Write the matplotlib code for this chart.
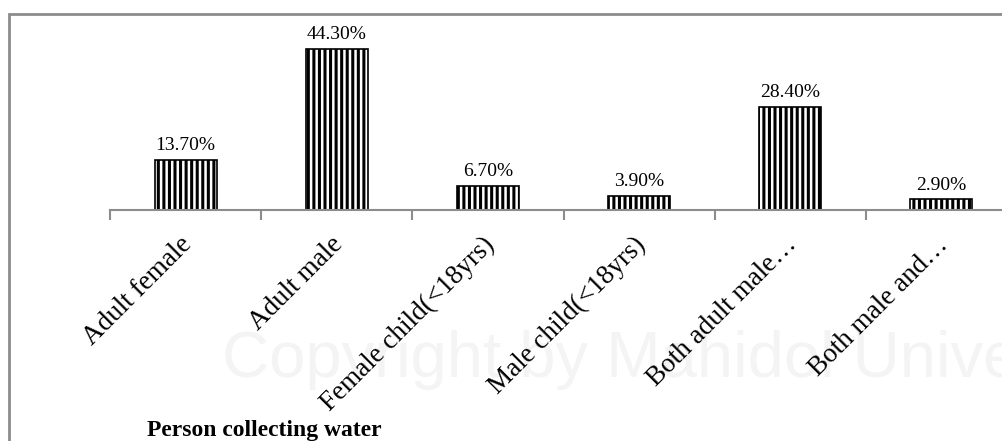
import matplotlib.pyplot as plt
import matplotlib.patches as mpatches
from matplotlib.transforms import ScaledTranslation
import numpy as np

plt.rcParams['hatch.color'] = 'black'
plt.rcParams['hatch.linewidth'] = 2.2

categories = ['Adult female', 'Adult male', 'Female child(<18yrs)',
              'Male child(<18yrs)', 'Both adult male\u2026', 'Both male and\u2026']
values = [13.7, 44.3, 6.7, 3.9, 28.4, 2.9]
title = 'Person collecting water'

W, H = 1003, 441
fig = plt.figure(figsize=(W / 100, H / 100), dpi=100)

# grey frame round the chart area (only left and top show)
frame = mpatches.Rectangle((9 / W, -0.1), 1.2, 1 - 14 / H + 0.1, transform=fig.transFigure,
                           fill=False, edgecolor='#8c8c8c', linewidth=2)
fig.patches.append(frame)

# faint watermark, behind everything else
fig.text(222 / W, 1 - 377 / H, 'Copyright by Mahidol University', fontsize=47,
         color='#f4f4f4', ha='left', va='baseline', family='Liberation Sans', zorder=1)

ppp = 161 / 44.3  # pixels per percent
base = 210
ymax = 50
ax = fig.add_axes([110 / W, 1 - base / H, 907 / W, ymax * ppp / H])
ax.set_zorder(2)
x = np.arange(len(categories)) + 0.5
bars = ax.bar(x, values, width=0.41, color='white', edgecolor='black', linewidth=1.2,
              hatch='|||')
for xi, v in zip(x, values):
    ax.text(xi, v + 1.6, f'{v:.2f}%', ha='center', va='bottom', fontsize=14,
            family='Liberation Serif')

ax.set_xlim(0, len(categories))
ax.set_ylim(0, ymax)
for s in ['top', 'right', 'left']:
    ax.spines[s].set_visible(False)
ax.spines['bottom'].set_color('#8c8c8c')
ax.spines['bottom'].set_linewidth(1.5)
ax.set_yticks([])
ax.set_xticks(np.arange(len(categories)))
ax.set_xticklabels([])
ax.tick_params(axis='x', length=7, width=1.5, color='#8c8c8c', direction='out')
ax.set_xticks(x, minor=True)
ax.set_xticklabels(categories, minor=True, rotation=45, ha='right', rotation_mode='anchor',
                   fontsize=19.5, family='Liberation Serif')
ax.tick_params(axis='x', which='minor', length=0, pad=16)
shift = ScaledTranslation(-0.06, 0, fig.dpi_scale_trans)
for lab in ax.get_xticklabels(minor=True):
    lab.set_transform(lab.get_transform() + shift)
ax.patch.set_alpha(0)

fig.text(147 / W, 1 - 436 / H, title, fontsize=17, fontweight='bold',
         family='Liberation Serif', ha='left', va='baseline')

fig.savefig('out.png', dpi=100)
